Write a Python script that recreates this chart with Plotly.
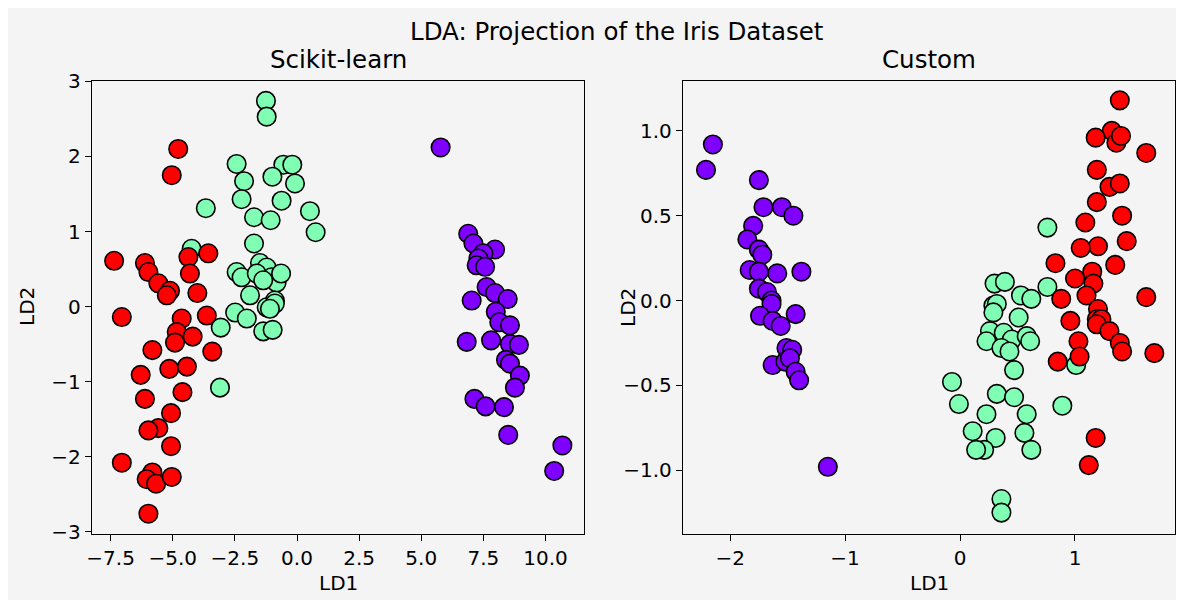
import plotly.graph_objects as go

W, H = 1184, 607
OFF = 8  # page body margin compensation

# ---------------- Data: Scikit-learn projection ----------------
sk_setosa_ld1 = [5.78, 6.89, 7.10, 7.97, 7.50, 7.30, 7.23, 7.57, 7.63, 7.97, 8.48, 7.03, 8.00, 8.14, 8.57,
                 6.83, 7.81, 8.57, 8.93, 8.41, 8.57, 8.97, 8.77, 7.14, 7.59, 8.33, 8.50, 10.68, 10.35]
sk_setosa_ld2 = [2.12, 0.97, 0.84, 0.76, 0.71, 0.64, 0.55, 0.53, 0.26, 0.18, 0.10, 0.08, -0.07, -0.21, -0.25,
                 -0.47, -0.45, -0.50, -0.51, -0.71, -0.76, -0.92, -1.08, -1.23, -1.33, -1.34, -1.71, -1.85, -2.19]

sk_versi_ld1 = [-1.25, -1.22, -2.43, -2.13, -2.23, -3.67, -0.55, -0.19, -0.99, -0.08, -0.62, -1.73, -1.06, 0.52, 0.75,
                -1.73, -4.24, -1.49, -1.22, -2.43, -2.23, -1.62, -1.02, -0.82, -0.64, -1.36, -1.89, -0.89, -1.22, -2.49,
                -0.89, -1.09, -2.02, -3.07, -1.36, -0.98, -3.10]
sk_versi_ld2 = [2.74, 2.53, 1.90, 1.67, 1.43, 1.31, 1.89, 1.89, 1.73, 1.64, 1.41, 1.19, 1.15, 1.27, 0.99,
                0.84, 0.77, 0.58, 0.52, 0.46, 0.39, 0.44, 0.39, 0.32, 0.44, 0.35, 0.15, 0.08, -0.01, -0.08,
                0.04, -0.03, -0.16, -0.28, -0.33, -0.31, -1.08]

sk_virg_ld1 = [-4.78, -5.04, -7.36, -6.12, -5.98, -5.58, -5.11, -5.24, -4.37, -3.57, -4.31, -4.01,
               -7.05, -3.63, -4.64, -4.84, -4.91, -4.20, -5.82, -3.41, -6.29, -5.14, -4.43, -6.12, -4.61,
               -5.07, -5.58, -5.98, -5.07, -7.05, -5.82, -6.05, -5.67, -5.04, -5.98]
sk_virg_ld2 = [2.10, 1.75, 0.61, 0.58, 0.46, 0.31, 0.21, 0.15, 0.66, 0.71, 0.44, 0.18,
               -0.14, -0.12, -0.16, -0.34, -0.48, -0.40, -0.58, -0.60, -0.91, -0.83, -0.80, -1.23, -1.14,
               -1.42, -1.62, -1.65, -1.86, -2.08, -2.21, -2.30, -2.36, -2.27, -2.76]

# ---------------- Data: Custom projection ----------------
cu_setosa_ld1 = [-2.15, -2.21, -1.75, -1.71, -1.55, -1.45, -1.80, -1.85, -1.75, -1.72, -1.83, -1.75, -1.59, -1.38,
                 -1.75, -1.68, -1.64, -1.64, -1.74, -1.63, -1.56, -1.43, -1.51, -1.46, -1.63, -1.52, -1.48,
                 -1.43, -1.40, -1.15]
cu_setosa_ld2 = [0.92, 0.77, 0.71, 0.55, 0.55, 0.50, 0.44, 0.36, 0.30, 0.27, 0.18, 0.17, 0.16, 0.17,
                 0.07, 0.05, 0.00, -0.02, -0.09, -0.12, -0.15, -0.08, -0.28, -0.29, -0.38, -0.36, -0.34,
                 -0.42, -0.47, -0.98]

cu_versi_ld1 = [0.76, 0.30, 0.39, 0.53, 0.62, 0.76, 0.29, 0.32, 0.29, 0.51, 0.26, 0.38, 0.45, 0.58, 0.61,
                0.23, 0.36, 0.43, 1.01, 0.47, -0.07, -0.01, 0.32, 0.47, 0.23, 0.58, 0.89, 0.11, 0.31, 0.56,
                0.21, 0.14, 0.62, 0.36, 0.36]
cu_versi_ld2 = [0.43, 0.10, 0.11, 0.03, 0.01, 0.08, -0.03, -0.02, -0.07, -0.10, -0.18, -0.19, -0.23, -0.21, -0.24,
                -0.24, -0.28, -0.30, -0.38, -0.41, -0.48, -0.61, -0.55, -0.57, -0.67, -0.67, -0.62, -0.77, -0.81, -0.78,
                -0.88, -0.88, -0.88, -1.17, -1.25]

cu_virg_ld1 = [1.39, 1.32, 1.18, 1.36, 1.40, 1.62, 1.19, 1.30, 1.39, 1.19, 1.41, 1.09, 1.45, 1.20, 1.05,
               1.35, 0.83, 1.15, 1.16, 1.00, 1.10, 0.88, 1.62, 1.20, 0.96, 1.19, 1.23, 1.19, 1.30, 1.03,
               1.39, 1.41, 0.85, 1.04, 1.69, 1.18, 1.12]
cu_virg_ld2 = [1.18, 1.00, 0.96, 0.93, 0.97, 0.87, 0.77, 0.67, 0.69, 0.58, 0.50, 0.46, 0.35, 0.32, 0.31,
               0.21, 0.22, 0.17, 0.10, 0.13, 0.03, 0.01, 0.02, -0.05, -0.12, -0.11, -0.11, -0.14, -0.18, -0.24,
               -0.25, -0.30, -0.36, -0.33, -0.31, -0.81, -0.97]

class_colors = ["#8000ff", "#80ffb4", "#ff0000"]
bg = "#f4f4f4"
font_family = "DejaVu Sans, Verdana, sans-serif"


def px_x(p):
    return (p - OFF) / W


def px_y(p):
    return 1 - (p - OFF) / H


fig = go.Figure()

series = [
    ("x", "y", sk_setosa_ld1, sk_setosa_ld2, 0),
    ("x", "y", sk_versi_ld1, sk_versi_ld2, 1),
    ("x", "y", sk_virg_ld1, sk_virg_ld2, 2),
    ("x2", "y2", cu_setosa_ld1, cu_setosa_ld2, 0),
    ("x2", "y2", cu_versi_ld1, cu_versi_ld2, 1),
    ("x2", "y2", cu_virg_ld1, cu_virg_ld2, 2),
]
for xa, ya, xs, ys, c in series:
    fig.add_trace(go.Scatter(
        x=xs, y=ys, xaxis=xa, yaxis=ya, mode="markers",
        marker=dict(size=18.5, color=class_colors[c], line=dict(color="black", width=1.6)),
        showlegend=False, hoverinfo="x+y",
    ))

tick_font = dict(family=font_family, size=20, color="black")
axis_common = dict(
    showline=True, mirror=True, linecolor="black", linewidth=1.3,
    ticks="outside", ticklen=6, tickwidth=1.3, tickcolor="black",
    showgrid=False, zeroline=False, tickfont=tick_font, automargin=False,
)

y_dom = [px_y(534), px_y(81)]
fig.update_layout(
    width=W, height=H,
    margin=dict(l=0, r=0, t=0, b=0, pad=0, autoexpand=False),
    paper_bgcolor="white",
    plot_bgcolor=bg,
    xaxis=dict(domain=[px_x(92), px_x(584)], range=[-8.25, 11.55], tick0=0, dtick=2.5,
               tickformat=".1f", anchor="y", **axis_common),
    yaxis=dict(domain=y_dom, range=[-3.03, 3.005], tick0=0, dtick=1, anchor="x", **axis_common),
    xaxis2=dict(domain=[px_x(683), px_x(1175)], range=[-2.41, 1.87], tick0=0, dtick=1,
                anchor="y2", **axis_common),
    yaxis2=dict(domain=y_dom, range=[-1.376, 1.294], tick0=0, dtick=0.5, tickformat=".1f",
                anchor="x2", **axis_common),
    shapes=[dict(type="rect", xref="paper", yref="paper", layer="below",
                 x0=px_x(0), x1=px_x(1180), y0=px_y(600), y1=px_y(0),
                 fillcolor=bg, line=dict(width=0))],
)

title_font = dict(family=font_family, size=24.5, color="black")
label_font = dict(family=font_family, size=20, color="black")
annos = [
    ("LDA: Projection of the Iris Dataset", 617, 32, title_font, 0),
    ("Scikit-learn", 338, 60, title_font, 0),
    ("Custom", 929, 60, title_font, 0),
    ("LD1", 338, 583, label_font, 0),
    ("LD1", 929, 583, label_font, 0),
    ("LD2", 27, 307, label_font, -90),
    ("LD2", 628, 308, label_font, -90),
]
for text, x, y, f, ang in annos:
    fig.add_annotation(text=text, x=px_x(x), y=px_y(y), xref="paper", yref="paper",
                       xanchor="center", yanchor="middle", showarrow=False, font=f, textangle=ang)

fig.write_html("out.html")
